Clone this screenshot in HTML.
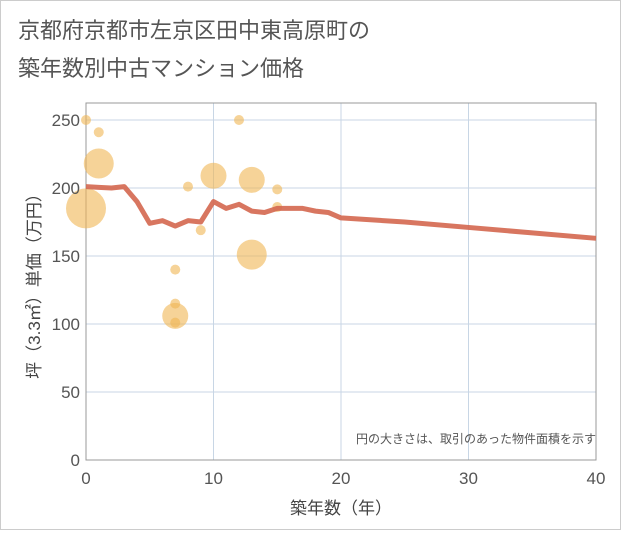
<!DOCTYPE html>
<html><head><meta charset="utf-8"><style>
body{margin:0;background:#fff;}
.t{font-family:"Liberation Sans","Noto Sans CJK JP",sans-serif;}
</style></head><body>
<svg width="621" height="530" xmlns="http://www.w3.org/2000/svg">
<rect x="0.5" y="0.5" width="620" height="529" fill="#fff" stroke="#ccc"/>
<text class="t" x="18" y="38" font-size="22" fill="#555">京都府京都市左京区田中東高原町の</text>
<text class="t" x="18" y="76" font-size="22" fill="#555">築年数別中古マンション価格</text>
<g id="grid"></g><g id="bub"></g><g id="ln"></g><g id="ax"></g>
<text class="t" x="596" y="443" font-size="12" fill="#555" text-anchor="end">円の大きさは、取引のあった物件面積を示す</text>
<text class="t" x="341" y="514" font-size="17" fill="#444" text-anchor="middle">築年数（年）</text>
<text class="t" transform="translate(40,282) rotate(-90)" font-size="17" fill="#444" text-anchor="middle">坪（3.3㎡）単価（万円）</text>
</svg>
<script>
const xTicks=[0,10,20,30,40];
const yTicks=[0,50,100,150,200,250];
const lineX=[0,1,2,3,4,5,6,7,8,9,10,11,12,13,14,15,16,17,18,19,20,25,30,35,40];
const lineY=[201,200.5,200,201,190,174,176,172,176,175,190,185,188,183,182,185,185,185,183,182,178,175,171,167,163];
const bubX=[0,1,1,0,7,7,7,7,8,9,10,12,13,13,15,15];
const bubY=[250,241,218,185,106,115,101,140,201,169,209,250,206,151,199,186];
const bubR=[5,5,15,20,13,5,5,5,5,5,13,5,13,15,5,5];
const X0=86,X1=596,Y0=460,Y1=103;
const sx=v=>X0+v*(X1-X0)/40, sy=v=>Y0-v*(68/50);
const NS="http://www.w3.org/2000/svg";
function mk(p,tag,a){const e=document.createElementNS(NS,tag);for(const k in a)e.setAttribute(k,a[k]);document.getElementById(p).appendChild(e);return e;}
yTicks.forEach(v=>{const l=mk('grid','line',{x1:X0,x2:X1,y1:sy(v),y2:sy(v),stroke:'#c8d6e5','stroke-width':1});


const t=mk('ax','text',{x:X0-6,y:sy(v)+6,'font-size':17,fill:'#555','text-anchor':'end',class:'t'});t.textContent=v;

});
xTicks.forEach(v=>{const l=mk('grid','line',{x1:sx(v),x2:sx(v),y1:Y1,y2:Y0,stroke:'#c8d6e5','stroke-width':1});


const t=mk('ax','text',{x:sx(v),y:Y0+24,'font-size':17,fill:'#555','text-anchor':'middle',class:'t'});t.textContent=v;

});
const bx=mk('grid','rect',{x:X0,y:Y1,width:X1-X0,height:Y0-Y1,fill:'none',stroke:'#999','stroke-width':1});


bubX.forEach((v,i)=>{const c=mk('bub','circle',{cx:sx(v),cy:sy(bubY[i]),r:bubR[i],fill:'#f0b654','fill-opacity':0.6});

});
const pl=mk('ln','polyline',{points:lineX.map((v,i)=>sx(v)+','+sy(lineY[i])).join(' '),fill:'none',stroke:'#d4674f','stroke-width':5,'stroke-linejoin':'round','stroke-opacity':0.9});


</script>
</body></html>
